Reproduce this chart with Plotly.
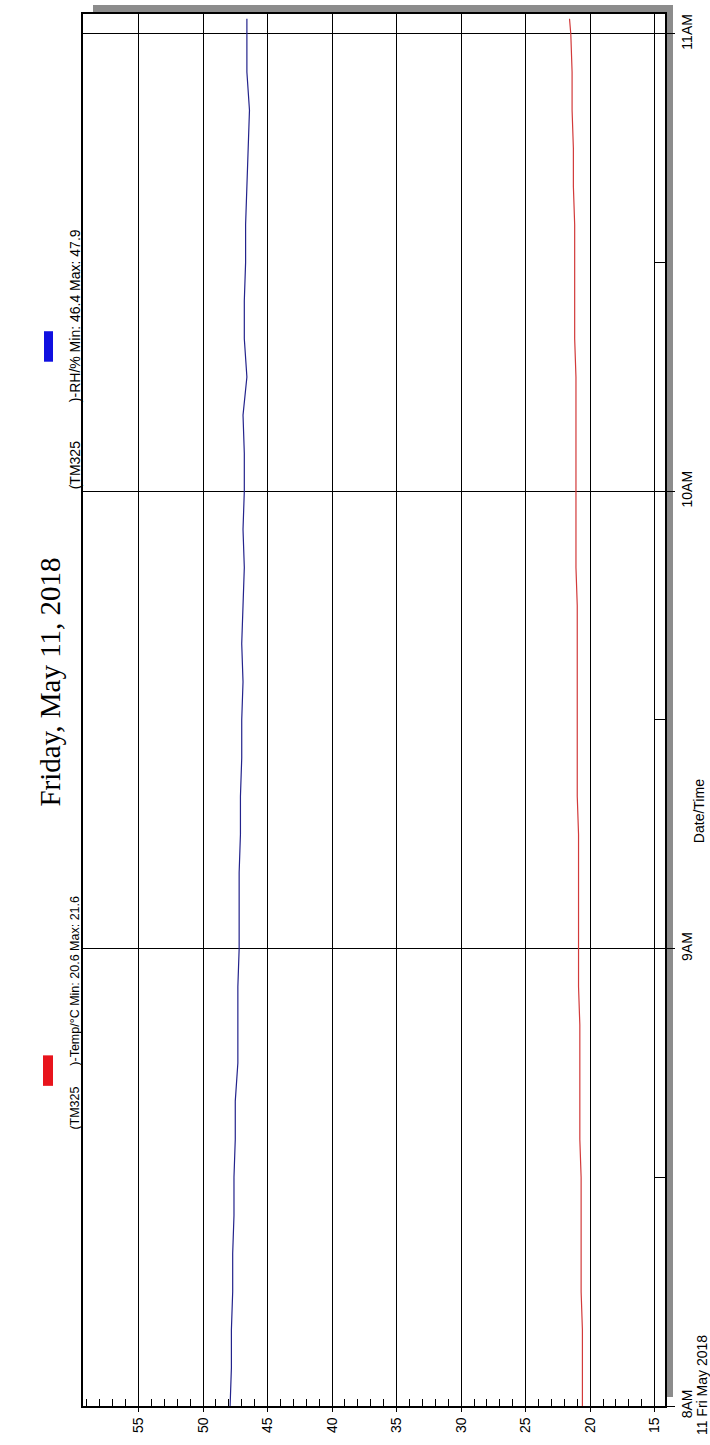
import plotly.graph_objects as go

DAY = "2018-05-11"
times = ["08:00", "08:05", "08:10", "08:15", "08:20", "08:25", "08:30", "08:35",
         "08:40", "08:45", "08:50", "08:55", "09:00", "09:05", "09:10", "09:15",
         "09:20", "09:25", "09:30", "09:35", "09:40", "09:45", "09:50", "09:55",
         "10:00", "10:05", "10:10", "10:15", "10:20", "10:25", "10:30", "10:35",
         "10:40", "10:45", "10:50", "10:55", "11:00", "11:02"]
rh = [47.9, 47.8, 47.8, 47.7, 47.7, 47.6, 47.6, 47.5,
      47.5, 47.3, 47.3, 47.3, 47.2, 47.2, 47.2, 47.1,
      47.1, 47.0, 47.0, 46.9, 47.0, 46.9, 46.8, 46.9,
      46.8, 46.8, 46.9, 46.6, 46.8, 46.8, 46.7, 46.7,
      46.6, 46.5, 46.4, 46.6, 46.6, 46.6]
temp = [20.6, 20.6, 20.6, 20.7, 20.7, 20.7, 20.7, 20.8,
        20.8, 20.8, 20.8, 20.9, 20.9, 20.9, 20.9, 20.9,
        21.0, 21.0, 21.0, 21.0, 21.0, 21.0, 21.1, 21.1,
        21.1, 21.1, 21.1, 21.1, 21.2, 21.2, 21.2, 21.2,
        21.3, 21.3, 21.4, 21.4, 21.5, 21.6]
value_ticks = [15, 20, 25, 30, 35, 40, 45, 50, 55]
hour_ticks = ["08:00", "09:00", "10:00", "11:00"]
hour_labels = ["8AM", "9AM", "10AM", "11AM"]
half_ticks = ["08:30", "09:30", "10:30"]
title_text = "Friday, May 11, 2018"
legend_temp = "(TM325" + "\u00a0" * 6 + ")-Temp/°C Min: 20.6 Max: 21.6"
legend_rh = "(TM325" + "\u00a0" * 10 + ")-RH/% Min: 46.4 Max: 47.9"

def ts(s):
    return f"{DAY} {s}"

t = [ts(s) for s in times]

W, H = 710, 1445
L, R, T, B = 83, 665, 12, 1409

def px(x):
    return (x - L) / (R - L)

def py(y):
    return (B - y) / (B - T)

fig = go.Figure()
fig.add_trace(go.Scatter(x=rh, y=t, mode="lines",
                         line=dict(color="#23238c", width=1.2), showlegend=False))
fig.add_trace(go.Scatter(x=temp, y=t, mode="lines",
                         line=dict(color="#d23a3a", width=1.2), showlegend=False))

font_sans = "Liberation Sans, Arial, sans-serif"

fig.update_layout(
    width=W, height=H,
    margin=dict(l=L, r=W - R, t=T, b=H - B, pad=0),
    paper_bgcolor="white", plot_bgcolor="white",
    font=dict(family=font_sans, size=14, color="black"),
    xaxis=dict(
        range=[59.3, 14.2], tickmode="array", tickvals=value_ticks,
        ticktext=[str(v) for v in value_ticks], tickangle=-90,
        showgrid=True, gridcolor="black", gridwidth=1,
        showline=True, linecolor="black", linewidth=1.5, mirror=True,
        ticks="outside", ticklen=4, tickcolor="black", zeroline=False,
        minor=dict(tick0=15, dtick=1, ticks="inside", ticklen=7,
                   tickcolor="black", showgrid=False),
        tickfont=dict(size=14),
    ),
    yaxis=dict(
        type="date", range=[ts("08:00:00"), ts("11:02:37")], side="right",
        tickmode="array", tickvals=[ts(h) for h in hour_ticks], ticktext=hour_labels,
        tickangle=-90, showgrid=True, gridcolor="black", gridwidth=1,
        showline=True, linecolor="black", linewidth=1.5, mirror=True,
        ticks="outside", ticklen=8, tickcolor="black", zeroline=False,
        minor=dict(tickmode="array", tickvals=[ts(h) for h in half_ticks],
                   ticks="inside", ticklen=10, tickcolor="black", showgrid=False),
        tickfont=dict(size=14),
    ),
    shapes=[
        dict(type="rect", xref="paper", yref="paper", x0=px(93), x1=px(673),
             y0=py(11), y1=py(3), fillcolor="#8c8c8c", line=dict(width=0), layer="below"),
        dict(type="rect", xref="paper", yref="paper", x0=px(666), x1=px(673),
             y0=py(1400), y1=py(3), fillcolor="#8c8c8c", line=dict(width=0), layer="below"),
        dict(type="rect", xref="paper", yref="y", x0=px(43), x1=px(53),
             y0=ts("08:42"), y1=ts("08:46"), fillcolor="#e8141c", line=dict(width=0)),
        dict(type="rect", xref="paper", yref="y", x0=px(44), x1=px(53),
             y0=ts("10:17"), y1=ts("10:21"), fillcolor="#1010e0", line=dict(width=0)),
    ],
    annotations=[
        dict(text=title_text, xref="paper", yref="paper", x=px(50), y=py(683),
             showarrow=False, textangle=-90, xanchor="center", yanchor="middle",
             font=dict(family="Liberation Serif, Times New Roman, serif", size=29)),
        dict(text=legend_temp, xref="paper", yref="y", x=px(75), y=ts("08:36"),
             showarrow=False, textangle=-90, xanchor="center", yanchor="bottom",
             font=dict(size=12.5)),
        dict(text=legend_rh, xref="paper", yref="y", x=px(75), y=ts("10:00"),
             showarrow=False, textangle=-90, xanchor="center", yanchor="bottom",
             font=dict(size=14)),
        dict(text="Date/Time", xref="paper", yref="paper", x=px(699), y=py(812),
             showarrow=False, textangle=-90, xanchor="center", yanchor="middle",
             font=dict(size=14)),
        dict(text="11 Fri May 2018", xref="paper", yref="paper", x=px(702), y=py(1388),
             showarrow=False, textangle=-90, xanchor="center", yanchor="middle",
             font=dict(size=14)),
    ],
)

fig.write_html("out.html", config={"displayModeBar": False},
               post_script="document.body.style.margin='0px';")
